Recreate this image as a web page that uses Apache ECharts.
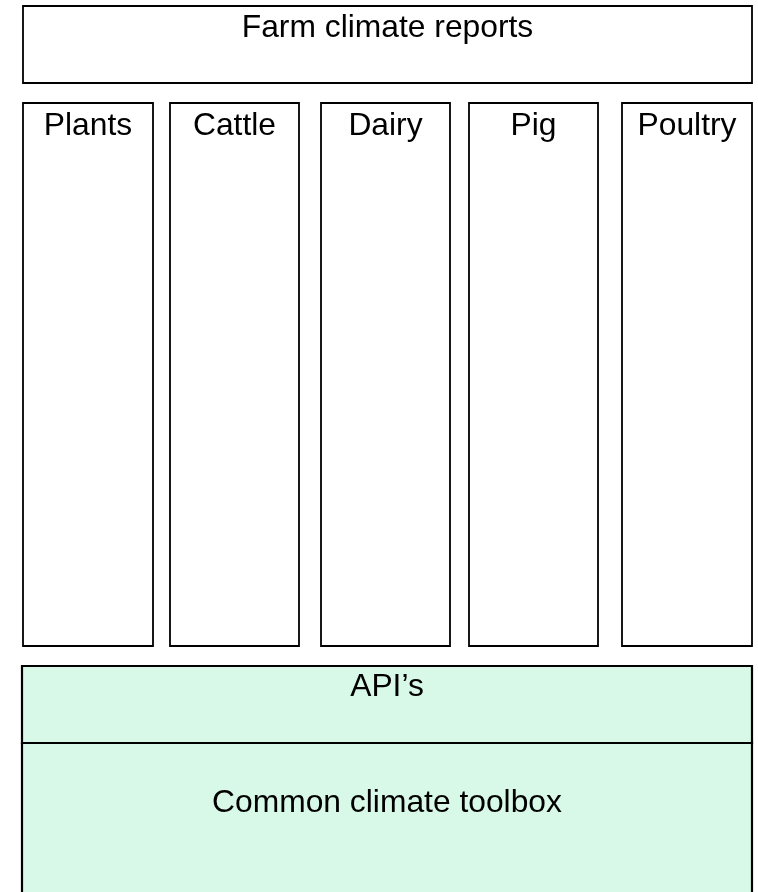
<!DOCTYPE html>
<html><head><meta charset="utf-8">
<script src="https://cdn.jsdelivr.net/npm/echarts@6/dist/echarts.min.js"></script>
<style>html,body{margin:0;padding:0;background:#fff}#c{width:758px;height:892px}</style>
</head><body><div id="c"></div>
<script>
// Diagram content (extents in diagram units)
const headerLabels = ['Farm climate reports'];
const headerStarts = [23];
const headerEnds = [752];
const headerTops = [6];
const headerBottoms = [83];

const columnLabels = ['Plants', 'Cattle', 'Dairy', 'Pig', 'Poultry'];
const columnStarts = [23, 170, 321, 469, 622];
const columnEnds = [153, 299, 450, 598, 752];
const columnTops = [103, 103, 103, 103, 103];
const columnBottoms = [646, 646, 646, 646, 646];

const baseLabels = ['API\u2019s', 'Common climate toolbox'];
const baseStarts = [22, 22];
const baseEnds = [752, 752];
const baseTops = [666, 743];
const baseBottoms = [743, 905];

// styles
const STYLE = {
  header: { fill: '#ffffff', lineWidth: 1.8, labelDy: 22 },
  column: { fill: '#ffffff', lineWidth: 1.8, labelDy: 23 },
  base0: { fill: '#D8F9E8', lineWidth: 2.2, labelDy: 21 },
  base1: { fill: '#D8F9E8', lineWidth: 2.2, labelDy: 60 }
};
const FONT_SIZE = 31.8;
const FONT_FAMILY = '"Liberation Sans", Arial, Helvetica, sans-serif';

const items = [];
headerLabels.forEach((l, i) => items.push({ value: [headerStarts[i], headerEnds[i], headerTops[i], headerBottoms[i]], label: l, kind: 'header' }));
columnLabels.forEach((l, i) => items.push({ value: [columnStarts[i], columnEnds[i], columnTops[i], columnBottoms[i]], label: l, kind: 'column' }));
baseLabels.forEach((l, i) => items.push({ value: [baseStarts[i], baseEnds[i], baseTops[i], baseBottoms[i]], label: l, kind: 'base' + i }));

const chart = echarts.init(document.getElementById('c'), null, { renderer: 'canvas' });
chart.setOption({
  animation: false,
  backgroundColor: '#ffffff',
  grid: { left: 0, right: 0, top: 0, bottom: 0 },
  xAxis: { type: 'value', min: 0, max: 758, show: false },
  yAxis: { type: 'value', min: 0, max: 892, inverse: true, show: false },
  series: [{
    type: 'custom',
    clip: false,
    data: items,
    renderItem: function (params, api) {
      const it = items[params.dataIndex];
      const p0 = api.coord([api.value(0), api.value(2)]);
      const p1 = api.coord([api.value(1), api.value(3)]);
      const st = STYLE[it.kind];
      return {
        type: 'group',
        children: [
          {
            type: 'rect',
            shape: { x: p0[0], y: p0[1], width: p1[0] - p0[0], height: p1[1] - p0[1] },
            style: { fill: st.fill, stroke: '#000', lineWidth: st.lineWidth }
          },
          {
            type: 'text',
            style: {
              text: it.label,
              x: (p0[0] + p1[0]) / 2,
              y: p0[1] + st.labelDy,
              align: 'center',
              verticalAlign: 'middle',
              fontSize: FONT_SIZE,
              fontFamily: FONT_FAMILY,
              fill: '#000'
            }
          }
        ]
      };
    }
  }]
});
</script></body></html>
